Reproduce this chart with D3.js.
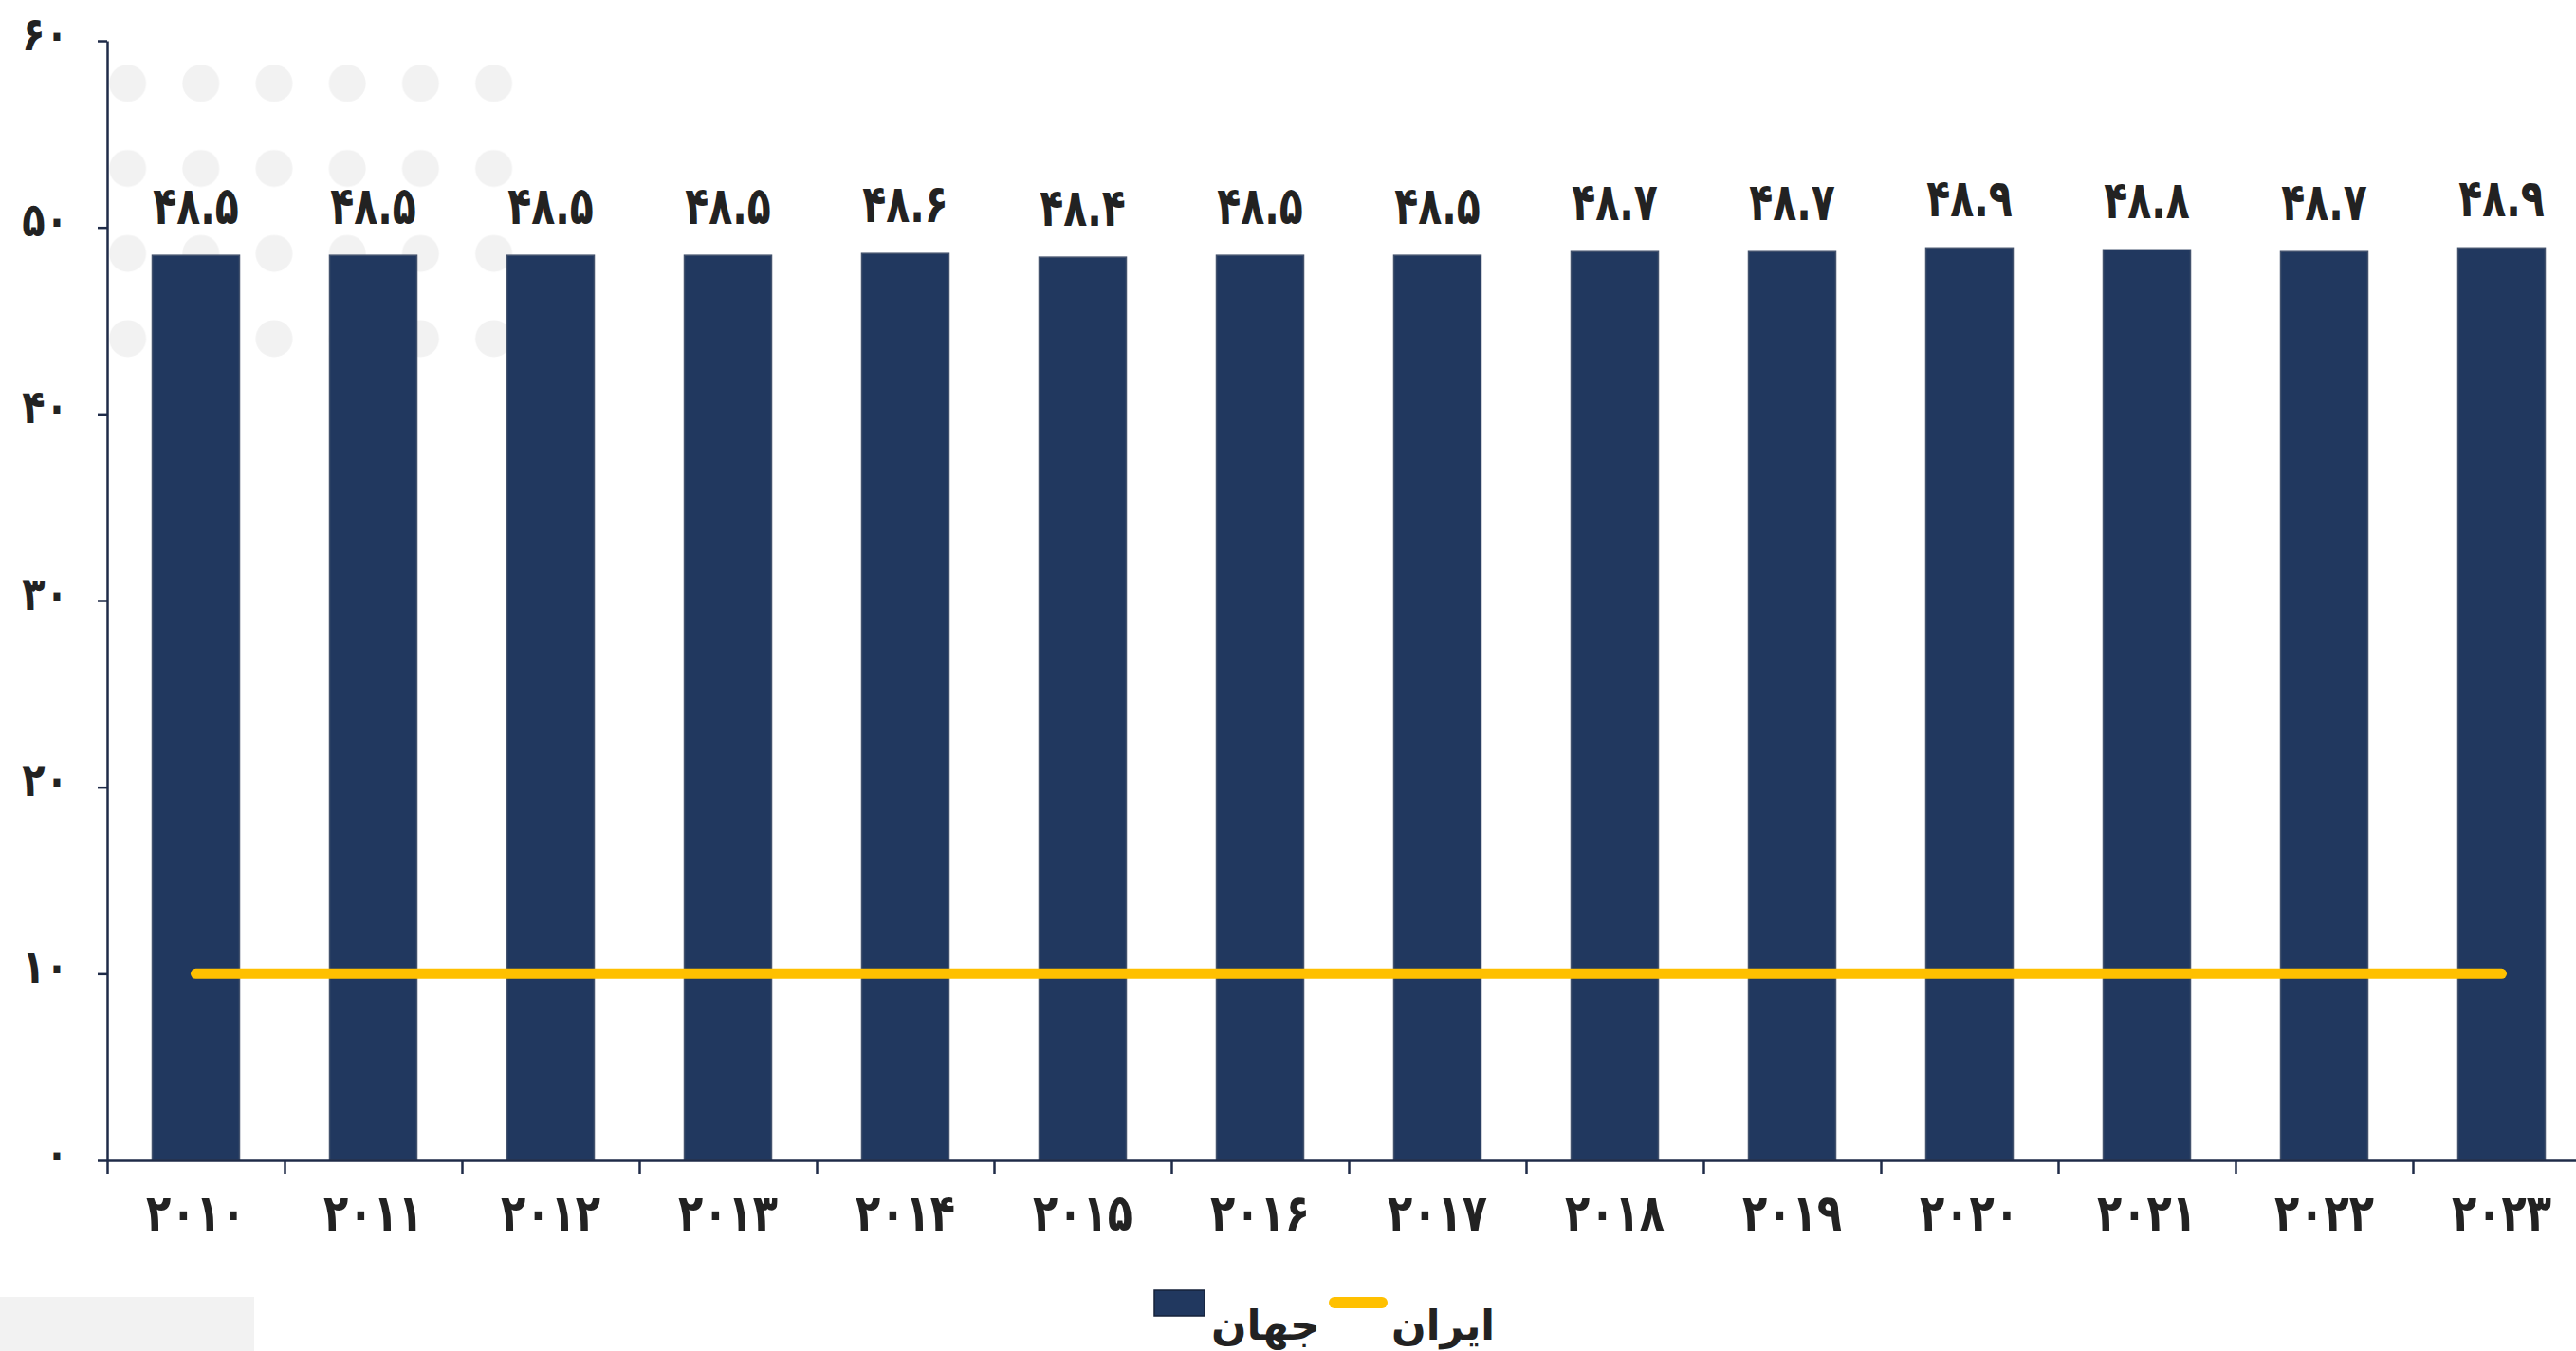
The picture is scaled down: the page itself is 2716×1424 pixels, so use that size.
<!DOCTYPE html>
<html>
<head>
<meta charset="utf-8">
<script src="https://cdn.jsdelivr.net/npm/d3@7"></script>
<style>
  body { margin: 0; background: #fff; }
  svg text { font-family: "DejaVu Sans", sans-serif; font-weight: bold; fill: #222; }
</style>
</head>
<body>
<div id="chart"></div>
<script>
// data
const years = [2010, 2011, 2012, 2013, 2014, 2015, 2016, 2017, 2018, 2019, 2020, 2021, 2022, 2023];
const world = [48.5, 48.5, 48.5, 48.5, 48.6, 48.4, 48.5, 48.5, 48.7, 48.7, 48.9, 48.8, 48.7, 48.9];
const iran = [10, 10, 10, 10, 10, 10, 10, 10, 10, 10, 10, 10, 10, 10];
const yTicks = [0, 10, 20, 30, 40, 50, 60];
const seriesNames = { world: 'جهان', iran: 'ایران' };

const width = 2716, height = 1424;
const navy = '#21385f', gold = '#ffc000';

const toFa = v => String(v).replace(/\d/g, d => '۰۱۲۳۴۵۶۷۸۹'[d]);

const svg = d3.select('#chart').append('svg')
  .attr('width', width)
  .attr('height', height);

const left = 113, step = 187;
const x = d3.scaleBand()
  .domain(years)
  .range([left, left + step * years.length])
  .paddingInner(0.508)
  .paddingOuter(0.254);

const y = d3.scaleLinear()
  .domain([0, 60])
  .range([1223, 43]);

// decoration: grey box bottom-left and dot grid top-left
svg.append('rect')
  .attr('x', 0).attr('y', 1367)
  .attr('width', 268).attr('height', height - 1367)
  .attr('fill', '#f2f2f2');

const defs = svg.append('defs');
defs.append('pattern')
  .attr('id', 'dots')
  .attr('patternUnits', 'userSpaceOnUse')
  .attr('x', 96).attr('y', 43)
  .attr('width', 77.2).attr('height', 89.7)
  .append('circle')
  .attr('cx', 38.6).attr('cy', 44.8).attr('r', 19.5)
  .attr('fill', '#f2f2f2');

svg.append('rect')
  .attr('x', 114).attr('y', 43)
  .attr('width', 77.2 * 6 - 20).attr('height', 89.7 * 4)
  .attr('fill', 'url(#dots)');

// bars
svg.append('g')
  .selectAll('rect')
  .data(years)
  .join('rect')
  .attr('x', d => x(d))
  .attr('y', (d, i) => y(world[i]))
  .attr('width', x.bandwidth())
  .attr('height', (d, i) => y(0) - y(world[i]))
  .attr('fill', navy)
  .attr('stroke', '#43526d')
  .attr('stroke-width', 1.5);

// y axis
const yAxis = svg.append('g')
  .attr('transform', `translate(${left},0)`)
  .call(d3.axisLeft(y).tickValues(yTicks).tickSize(10).tickSizeOuter(0).tickFormat(toFa));
yAxis.select('.domain').attr('stroke', '#1f2b48').attr('stroke-width', 2.5);
yAxis.selectAll('.tick line').attr('stroke', '#1f2b48').attr('stroke-width', 2.5);
yAxis.selectAll('.tick text')
  .attr('x', 0).attr('dy', null)
  .attr('font-size', 38)
  .attr('transform', 'translate(-41,9) scale(1.05,1.3)')
  .style('fill', '#222');

// x axis: line with ticks at band boundaries
const xb = d3.scaleLinear()
  .domain([0, years.length])
  .range(x.range());
const xAxis = svg.append('g')
  .attr('transform', `translate(0,${y(0)})`)
  .call(d3.axisBottom(xb).tickValues(d3.range(0, years.length + 1)).tickSize(14).tickSizeOuter(0).tickFormat(''));
xAxis.select('.domain').attr('stroke', '#1f2b48').attr('stroke-width', 2.5);
xAxis.selectAll('.tick line').attr('stroke', '#1f2b48').attr('stroke-width', 2.5);

// x labels
const xLabels = svg.append('g')
  .attr('transform', `translate(0,${y(0)})`)
  .call(d3.axisBottom(x).tickSize(0).tickFormat(toFa));
xLabels.select('.domain').remove();
xLabels.selectAll('.tick text')
  .attr('y', 0).attr('dy', null)
  .attr('font-size', 43)
  .attr('transform', 'translate(0,74) scale(1,1.25)')
  .style('fill', '#222');

// iran line
const line = d3.line()
  .x((d, i) => x(years[i]) + x.bandwidth() / 2)
  .y(d => y(d));

svg.append('path')
  .datum(iran)
  .attr('fill', 'none')
  .attr('stroke', gold)
  .attr('stroke-width', 11)
  .attr('stroke-linecap', 'round')
  .attr('d', line);

// value labels
svg.append('g')
  .selectAll('text')
  .data(world)
  .join('text')
  .attr('transform', (d, i) => `translate(${x(years[i]) + x.bandwidth() / 2},${y(d) - 33}) scale(1,1.35)`)
  .attr('text-anchor', 'middle')
  .attr('font-size', 41)
  .text(d => toFa(d.toFixed(1)));

// legend
const legend = svg.append('g');
legend.append('rect')
  .attr('x', 1217).attr('y', 1360)
  .attr('width', 53).attr('height', 27)
  .attr('fill', navy)
  .attr('stroke', '#16223a')
  .attr('stroke-width', 1.5);
legend.append('text')
  .attr('x', 1277).attr('y', 1412)
  .attr('font-size', 44)
  .text(seriesNames.world);
legend.append('line')
  .attr('x1', 1407).attr('x2', 1457)
  .attr('y1', 1373).attr('y2', 1373)
  .attr('stroke', gold)
  .attr('stroke-width', 12)
  .attr('stroke-linecap', 'round');
legend.append('text')
  .attr('x', 1467).attr('y', 1412)
  .attr('font-size', 43)
  .text(seriesNames.iran);
</script>
</body>
</html>
